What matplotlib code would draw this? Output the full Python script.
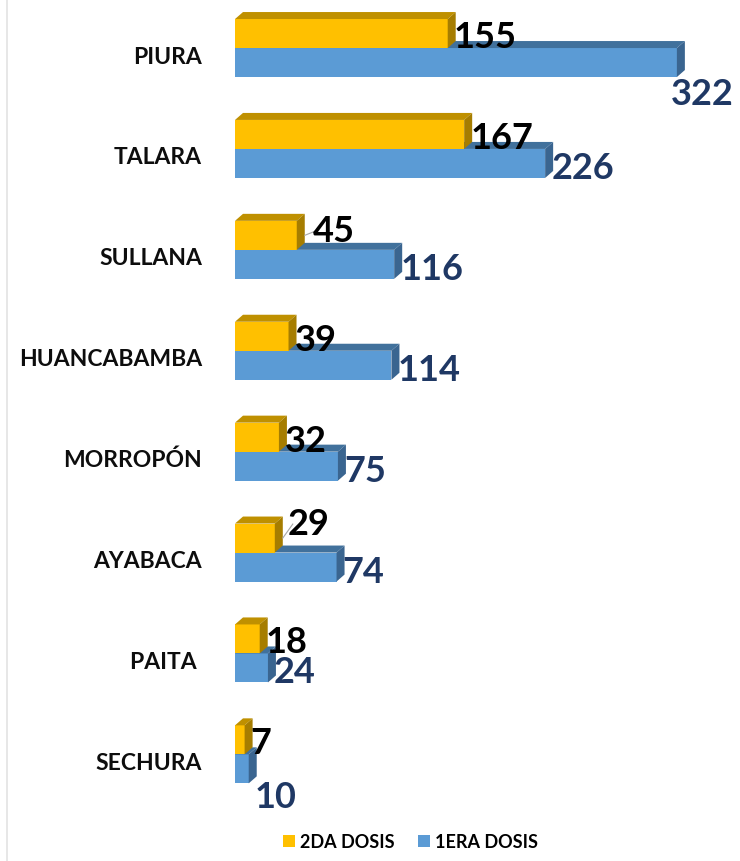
import matplotlib.pyplot as plt
from matplotlib.patches import Polygon, Patch
from matplotlib.lines import Line2D

provinces = ['PIURA', 'TALARA', 'SULLANA', 'HUANCABAMBA', 'MORROPÓN', 'AYABACA', 'PAITA ', 'SECHURA']
dosis2 = [155, 167, 45, 39, 32, 29, 18, 7]
dosis1 = [322, 226, 116, 114, 75, 74, 24, 10]
series_names = ['2DA DOSIS', '1ERA DOSIS']

plt.rcParams['font.family'] = ['Lato', 'DejaVu Sans']
plt.rcParams['font.weight'] = 'bold'

W, H = 740, 862
fig = plt.figure(figsize=(W / 100, H / 100), dpi=100)
fig.patch.set_facecolor('white')

# axes spans from x=235px to right edge, full height
ax = fig.add_axes([235 / W, 0, 1 - 235 / W, 1])
xmax = 368
ax.set_xlim(0, xmax)
ymin, ymax = -0.565, 7.978
ax.set_ylim(ymax, ymin)
ax.axis('off')

px_x = (W - 235) / xmax      # pixels per value unit
px_y = H / (ymax - ymin)     # pixels per category unit
dx = 8 / px_x                # depth of the 3d effect
dy = 7 / px_y
bh = 29 / px_y               # bar thickness
gold = ('#FFC000', '#BF9000', '#A67D00')
blue = ('#5B9BD5', '#41719C', '#3A6590')


def bar3d(y, v, cols):
    top, bot = y - bh / 2, y + bh / 2
    ax.barh(y, v, height=bh, color=cols[0], linewidth=0, zorder=2)
    ax.add_patch(Polygon([(0, top), (v, top), (v + dx, top - dy), (dx, top - dy)],
                         closed=True, facecolor=cols[1], linewidth=0, zorder=2))
    ax.add_patch(Polygon([(v, top), (v + dx, top - dy), (v + dx, bot - dy), (v, bot)],
                         closed=True, facecolor=cols[2], linewidth=0, zorder=2))


off_y2 = -0.079 - bh / 2
off_y1 = -0.079 + bh / 2
for i in range(len(provinces)):
    bar3d(i + off_y1, dosis1[i], blue)
    bar3d(i + off_y2, dosis2[i], gold)

# label nudges in pixels (x, y-down) to mimic the original placement
nudge2 = {2: (10, -8), 5: (7, -18)}
nudge1 = {0: (-12, 27), 7: (0, 24)}

for i in range(len(provinces)):
    nx, ny = nudge2.get(i, (0, 0))
    ax.annotate(str(dosis2[i]), xy=(dosis2[i], i + off_y2), xytext=(6 + nx, -3 - ny),
                textcoords='offset pixels', ha='left', va='center', fontsize=26,
                fontweight='bold', color='black', zorder=5)
    nx, ny = nudge1.get(i, (0, 0))
    ax.annotate(str(dosis1[i]), xy=(dosis1[i], i + off_y1), xytext=(6 + nx, -4 - ny),
                textcoords='offset pixels', ha='left', va='center', fontsize=26,
                fontweight='bold', color='#1F3864', zorder=5)

# small leader lines
for i in nudge2:
    x0 = dosis2[i] + dx
    y0 = i + off_y2
    ax.add_line(Line2D([x0, x0 + 10 / px_x], [y0, y0 + (nudge2[i][1] + 4) / px_y],
                       color='#A6A6A6', linewidth=0.8, zorder=4))

# category labels
for i, name in enumerate(provinces):
    fig.text(202 / W, 1 - (57 + i * 100.9) / H, name, ha='right', va='center',
             fontsize=16.5, fontweight='bold', color='#0D0D0D')

# frame line on the left
fig.add_artist(Line2D([7 / W, 7 / W], [0, 1], color='#E3E3E3', linewidth=1.2))

handles = [Patch(facecolor=gold[0]), Patch(facecolor=blue[0])]
fig.legend(handles, series_names, loc='lower left', bbox_to_anchor=(274 / W, 2 / H),
           ncol=2, frameon=False, borderpad=0, handlelength=0.65, handleheight=0.65,
           handletextpad=0.3, columnspacing=1.3,
           prop={'family': 'Lato', 'weight': 'bold', 'size': 13})

plt.savefig('out.png', dpi=100)
